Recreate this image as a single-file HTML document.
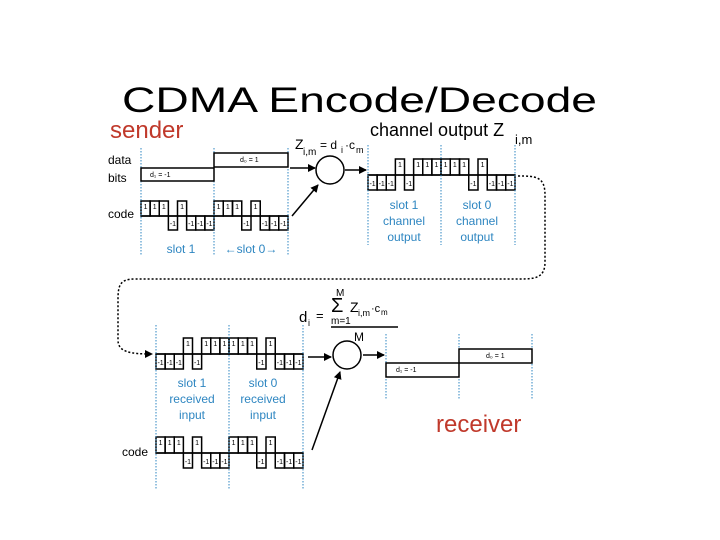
<!DOCTYPE html>
<html><head><meta charset="utf-8"><style>
html,body{margin:0;padding:0;background:#fff;width:720px;height:540px;overflow:hidden}
svg{display:block;font-family:"Liberation Sans",sans-serif}
</style></head><body>
<svg id="s" width="720" height="540" viewBox="0 0 720 540" xmlns="http://www.w3.org/2000/svg">
<defs><marker id="ah" markerWidth="8" markerHeight="8" refX="7" refY="4" orient="auto" markerUnits="userSpaceOnUse"><path d="M0,0 L8,4 L0,8 z" fill="#000"/></marker></defs>
<text x="122" y="112" font-size="35" textLength="475" lengthAdjust="spacingAndGlyphs">CDMA Encode/Decode</text>
<text x="110" y="138" font-size="24" fill="#c0392b">sender</text>
<text x="436" y="432" font-size="24" fill="#c0392b">receiver</text>
<text x="370" y="136" font-size="18">channel output Z</text>
<text x="515" y="144" font-size="13">i,m</text>
<text x="295" y="149" font-size="14">Z</text><text x="303" y="155" font-size="10">i,m</text>
<text x="320" y="149" font-size="12">= d</text><text x="341" y="153" font-size="9">i</text><text x="345" y="149" font-size="12">·c</text><text x="356" y="153" font-size="9">m</text>
<text x="108" y="164" font-size="12">data</text><text x="108" y="182" font-size="12">bits</text>
<text x="108" y="218" font-size="12">code</text>
<text x="122" y="456" font-size="12">code</text>
<g fill="#2e86c1" font-size="12" text-anchor="middle">
<text x="181" y="253">slot 1</text><text x="251" y="253">←slot 0→</text>
<text x="404" y="209">slot 1</text><text x="404" y="225">channel</text><text x="404" y="241">output</text>
<text x="477" y="209">slot 0</text><text x="477" y="225">channel</text><text x="477" y="241">output</text>
<text x="192" y="387">slot 1</text><text x="192" y="403">received</text><text x="192" y="419">input</text>
<text x="263" y="387">slot 0</text><text x="263" y="403">received</text><text x="263" y="419">input</text>
</g>
<text x="299" y="322" font-size="15">d</text><text x="308" y="326" font-size="9">i</text>
<text x="316" y="320" font-size="13">=</text>
<text x="331" y="312" font-size="20">Σ</text>
<text x="336" y="296" font-size="10">M</text>
<text x="331" y="324" font-size="10">m=1</text>
<text x="350" y="312" font-size="14">Z</text><text x="358" y="316" font-size="9">i,m</text><text x="371" y="312" font-size="11">·c</text><text x="381" y="315" font-size="8">m</text>
<line x1="331" y1="327" x2="398" y2="327" stroke="#000" stroke-width="1.5"/>
<text x="354" y="341" font-size="12">M</text>
<g id="g" fill="none" stroke="#000" stroke-width="1.5"></g>
<g id="d" fill="none" stroke="#2e86c1" stroke-width="1" stroke-dasharray="1.5,1.5"></g>
<g id="t" font-size="7" text-anchor="middle"></g>
<path d="M518,176 C535,176 545,176 545,195 L545,262 C545,278 535,279 520,279 L135,279 C120,279 118,285 118,300 L118,340 C118,352 130,354 152,354" fill="none" stroke="#000" stroke-width="1.5" stroke-dasharray="2,2" marker-end="url(#ah)"/>
<g stroke="#000" stroke-width="1.5" marker-end="url(#ah)">
<line x1="290" y1="168" x2="315" y2="168"/><line x1="292" y1="216" x2="318" y2="185"/>
<line x1="345" y1="170" x2="366" y2="170"/>
<line x1="308" y1="357" x2="331" y2="357"/><line x1="312" y1="450" x2="340" y2="372"/>
<line x1="363" y1="355" x2="384" y2="355"/>
</g>
<circle cx="330" cy="170" r="14" fill="none" stroke="#000" stroke-width="1.5"/>
<circle cx="347" cy="355" r="14" fill="none" stroke="#000" stroke-width="1.5"/>
<g fill="none" stroke="#000" stroke-width="1.5">
<rect x="141" y="168" width="73" height="13"/><rect x="214" y="153" width="74" height="14"/>
<rect x="386" y="363" width="73" height="14"/><rect x="459" y="349" width="73" height="14"/>
</g>
<text x="150" y="177" font-size="7">d₁ = -1</text><text x="240" y="162" font-size="7">d₀ = 1</text>
<text x="396" y="372" font-size="7">d₁ = -1</text><text x="486" y="358" font-size="7">d₀ = 1</text>
</svg>
<script>
var g=document.getElementById('g'),d=document.getElementById('d'),t=document.getElementById('t'),NS='http://www.w3.org/2000/svg';
function el(p,n,a,tx){var e=document.createElementNS(NS,n);for(var k in a)e.setAttribute(k,a[k]);if(tx)e.textContent=tx;p.appendChild(e);}
var c=[1,1,1,-1,1,-1,-1,-1];
function wave(x0,x1,base,top,bot,vals){var w=(x1-x0)/vals.length;el(g,'line',{x1:x0,y1:base,x2:x1,y2:base});
vals.forEach(function(v,i){var x=x0+i*w;if(v>0){el(g,'rect',{x:x,y:top,width:w,height:base-top});el(t,'text',{x:x+w/2,y:top+8},'1');}
else{el(g,'rect',{x:x,y:base,width:w,height:bot-base});el(t,'text',{x:x+w/2,y:bot-4},'-1');}});}
function vl(x,y0,y1){el(d,'line',{x1:x,y1:y0,x2:x,y2:y1});}
wave(141,214,216,201,230,c);wave(214,288,216,201,230,c);
var neg=c.map(function(v){return -v});
wave(368,441,175,159,190,neg);wave(441,515,175,159,190,c);
wave(156,229,354,338,369,neg);wave(229,303,354,338,369,c);
wave(156,229,453,437,468,c);wave(229,303,453,437,468,c);
[141,214,288].forEach(function(x){vl(x,148,255)});
[368,441,515].forEach(function(x){vl(x,145,245)});
[156,229,303].forEach(function(x){vl(x,325,490)});
[386,459,532].forEach(function(x){vl(x,334,400)});
</script>
</body></html>
